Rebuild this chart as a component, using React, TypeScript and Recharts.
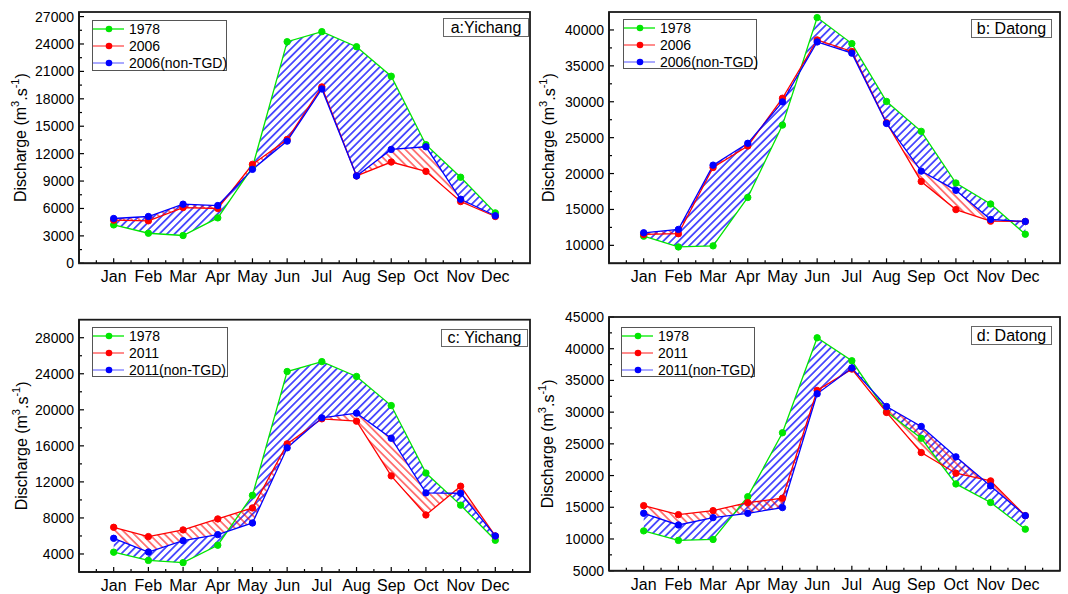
import React from "react";
import { ComposedChart, Line, Area, XAxis, YAxis } from "recharts";

// month categories (x positions 1..12)
const months = ["Jan", "Feb", "Mar", "Apr", "May", "Jun", "Jul", "Aug", "Sep", "Oct", "Nov", "Dec"];

// monthly discharge, m3/s
const yichang1978 = [4200, 3290, 3040, 4970, 10510, 24250, 25350, 23700, 20470, 12980, 9420, 5520];
const yichang2006 = [4720, 4650, 6100, 6000, 10830, 13550, 19300, 9560, 11080, 10060, 6760, 5120];
const yichang2006NonTGD = [4900, 5120, 6470, 6320, 10280, 13370, 19080, 9560, 12460, 12750, 7010, 5200];
const yichang2011 = [6960, 5930, 6670, 7890, 9110, 16220, 19000, 18740, 12670, 8330, 11520, 6000];
const yichang2011NonTGD = [5740, 4220, 5480, 6150, 7440, 15780, 19110, 19630, 16850, 10780, 10740, 6000];

const datong1978 = [11280, 9780, 9930, 16670, 26750, 41720, 38100, 30040, 25880, 18680, 15760, 11550];
const datong2006 = [11520, 11620, 20840, 23840, 30490, 38610, 37000, 27070, 18900, 14980, 13370, 13320];
const datong2006NonTGD = [11750, 12220, 21170, 24210, 29980, 38330, 36770, 26980, 20340, 17660, 13600, 13320];
const datong2011 = [15260, 13840, 14470, 15740, 16420, 33420, 36790, 29950, 23630, 20370, 19160, 13680];
const datong2011NonTGD = [14050, 12210, 13370, 14050, 14950, 32890, 36950, 30890, 27740, 22950, 18370, 13680];

// labelled y ticks for each panel
const ticksA = [0, 3000, 6000, 9000, 12000, 15000, 18000, 21000, 24000, 27000];
const ticksB = [10000, 15000, 20000, 25000, 30000, 35000, 40000];
const ticksC = [4000, 8000, 12000, 16000, 20000, 24000, 28000];
const ticksD = [5000, 10000, 15000, 20000, 25000, 30000, 35000, 40000, 45000];

const FONT = "Arial, 'Liberation Sans', sans-serif";
const GREEN = "#00e600";
const RED = "#ff0000";
const BLUE = "#0000ff";
const AXIS = "#000";

// x ticks every half month, labels only on whole months
const xTicks: number[] = [];
for (let v = 0.5; v <= 12.5; v += 0.5) xTicks.push(v);

function withMinor(majors: number[], lo: number, hi: number) {
  const step = (majors[1] - majors[0]) / 2;
  const out: number[] = [];
  for (let v = majors[0]; v >= lo; v -= step) out.push(v);
  for (let v = majors[0] + step; v <= hi; v += step) out.push(v);
  return out.sort((a, b) => a - b);
}

const XTick = (props: any) => {
  const { x, y, payload } = props;
  const v = payload.value;
  const major = Number.isInteger(v);
  return (
    <g>
      <line x1={x} x2={x} y1={y} y2={y - (major ? 5 : 3)} stroke={AXIS} strokeWidth={1.2} />
      {major && (
        <text x={x} y={y + 19} textAnchor="middle" fontSize={16} fill="#000" fontFamily={FONT}>
          {months[v - 1]}
        </text>
      )}
    </g>
  );
};

const YTick = (props: any) => {
  const { x, y, payload, majors, lo, hi } = props;
  const v = payload.value;
  const major = majors.includes(v);
  if ((v === lo || v === hi) && !major) return <g />;
  return (
    <g>
      <line x1={x} x2={x + (major ? 5 : 3)} y1={y} y2={y} stroke={AXIS} strokeWidth={1.2} />
      {major && (
        <text x={x - 5} y={y} textAnchor="end" dominantBaseline="central" fontSize={14} fill="#000" fontFamily={FONT}>
          {v}
        </text>
      )}
    </g>
  );
};

const AxisTitle = (props: any) => {
  const { px, py } = props;
  return (
    <text
      x={px}
      y={py}
      transform={`rotate(-90, ${px}, ${py})`}
      textAnchor="middle"
      dominantBaseline="central"
      fontSize={16}
      fill="#000"
      fontFamily={FONT}
    >
      Discharge (m
      <tspan dy={-6} fontSize={11}>3</tspan>
      <tspan dy={6}>.s</tspan>
      <tspan dy={-6} fontSize={11}>-1</tspan>
      <tspan dy={6}>)</tspan>
    </text>
  );
};

type Box = { left: number; top: number; width: number; height: number };

type Panel = {
  id: string;
  title: string;
  redName: string;
  blueName: string;
  base: number[];
  red: number[];
  blue: number[];
  domain: [number, number];
  majors: number[];
  left: number;
  top: number;
  margin: { top: number; right: number; bottom: number; left: number };
  yWidth: number;
  xHeight: number;
  labelX: number;
  legend: Box;
  titleBox: Box;
};

const panels: Panel[] = [
  {
    id: "a", title: "a:Yichang", redName: "2006", blueName: "2006(non-TGD)",
    base: yichang1978, red: yichang2006, blue: yichang2006NonTGD,
    domain: [0, 27500], majors: ticksA,
    left: 0, top: 0,
    margin: { top: 12, right: 4, bottom: 0, left: 0 }, yWidth: 79, xHeight: 33.7, labelX: 21,
    legend: { left: 92, top: 20, width: 135, height: 51 },
    titleBox: { left: 443, top: 18, width: 86, height: 19 },
  },
  {
    id: "b", title: "b: Datong", redName: "2006", blueName: "2006(non-TGD)",
    base: datong1978, red: datong2006, blue: datong2006NonTGD,
    domain: [7500, 42500], majors: ticksB,
    left: 534, top: 0,
    margin: { top: 12, right: 8, bottom: 0, left: 0 }, yWidth: 75, xHeight: 33.7, labelX: 15,
    legend: { left: 89, top: 19, width: 134, height: 50 },
    titleBox: { left: 437, top: 19, width: 81, height: 19 },
  },
  {
    id: "c", title: "c: Yichang", redName: "2011", blueName: "2011(non-TGD)",
    base: yichang1978, red: yichang2011, blue: yichang2011NonTGD,
    domain: [2000, 30000], majors: ticksC,
    left: 0, top: 297,
    margin: { top: 22.7, right: 4, bottom: 0, left: 0 }, yWidth: 79, xHeight: 22, labelX: 22,
    legend: { left: 92, top: 30, width: 136, height: 50 },
    titleBox: { left: 441, top: 32, width: 87, height: 18 },
  },
  {
    id: "d", title: "d: Datong", redName: "2011", blueName: "2011(non-TGD)",
    base: datong1978, red: datong2011, blue: datong2011NonTGD,
    domain: [5000, 45000], majors: ticksD,
    left: 534, top: 297,
    margin: { top: 20, right: 8, bottom: 0, left: 0 }, yWidth: 75, xHeight: 23.3, labelX: 14,
    legend: { left: 87, top: 30, width: 134, height: 50 },
    titleBox: { left: 437, top: 29, width: 81, height: 19 },
  },
];

const LegendRow = ({ color, line, label }: { color: string; line: string; label: string }) => (
  <div style={{ display: "flex", alignItems: "center", height: 16.7 }}>
    <svg width={34} height={10} style={{ flex: "none" }}>
      <line x1={0} x2={31} y1={5} y2={5} stroke={line} strokeWidth={1.5} />
      <circle cx={16} cy={5} r={3.3} fill={color} />
    </svg>
    <span style={{ marginLeft: 2, fontSize: 14, lineHeight: "16px", whiteSpace: "nowrap" }}>{label}</span>
  </div>
);

function ChartPanel({ p }: { p: Panel }) {
  const data = months.map((name, i) => ({ m: i + 1, name, g: p.base[i], r: p.red[i], b: p.blue[i] }));
  const yTicks = withMinor(p.majors, p.domain[0], p.domain[1]);
  const plotLeft = p.margin.left + p.yWidth;
  const plotTop = p.margin.top;
  const plotRight = 534 - p.margin.right;
  const plotBottom = 297 - p.margin.bottom - p.xHeight;
  const cy = (plotTop + plotBottom) / 2;
  return (
    <div style={{ position: "absolute", left: p.left, top: p.top, width: 534, height: 297 }}>
      <ComposedChart width={534} height={297} data={data} margin={p.margin}>
        <defs>
          <pattern id={`blueHatch-${p.id}`} width={5.4} height={5.4} patternUnits="userSpaceOnUse" patternTransform="rotate(45)">
            <line x1={2.7} x2={2.7} y1={0} y2={5.4} stroke={BLUE} strokeWidth={1.3} />
          </pattern>
          <pattern id={`redHatch-${p.id}`} width={5.4} height={5.4} patternUnits="userSpaceOnUse" patternTransform="rotate(-45)">
            <line x1={2.7} x2={2.7} y1={0} y2={5.4} stroke={RED} strokeWidth={1} />
          </pattern>
        </defs>
        <XAxis
          dataKey="m"
          type="number"
          domain={[0, 13]}
          ticks={xTicks}
          interval={0}
          height={p.xHeight}
          tickSize={0}
          tickMargin={0}
          tickLine={false}
          tick={<XTick />}
          axisLine={{ stroke: AXIS, strokeWidth: 1.5 }}
        />
        <YAxis
          type="number"
          domain={p.domain}
          ticks={yTicks}
          interval={0}
          width={p.yWidth}
          tickSize={0}
          tickMargin={0}
          tickLine={false}
          tick={(tp: any) => <YTick {...tp} majors={p.majors} lo={p.domain[0]} hi={p.domain[1]} />}
          axisLine={{ stroke: AXIS, strokeWidth: 1.5 }}
          label={<AxisTitle px={p.labelX} py={cy} />}
        />
        <Area
          type="linear"
          dataKey={(d: any) => [d.g, d.b]}
          stroke="none"
          fill={`url(#blueHatch-${p.id})`}
          fillOpacity={1}
          isAnimationActive={false}
          activeDot={false}
        />
        <Area
          type="linear"
          dataKey={(d: any) => [d.r, d.b]}
          stroke="none"
          fill={`url(#redHatch-${p.id})`}
          fillOpacity={1}
          isAnimationActive={false}
          activeDot={false}
        />
        <Line type="linear" dataKey="g" stroke={GREEN} strokeWidth={1.3} dot={{ r: 3.2, fill: GREEN, stroke: GREEN, strokeWidth: 1 }} isAnimationActive={false} />
        <Line type="linear" dataKey="r" stroke={RED} strokeWidth={1.3} dot={{ r: 3.2, fill: RED, stroke: RED, strokeWidth: 1 }} isAnimationActive={false} />
        <Line type="linear" dataKey="b" stroke={BLUE} strokeWidth={1.3} dot={{ r: 3.2, fill: BLUE, stroke: BLUE, strokeWidth: 1 }} isAnimationActive={false} />
      </ComposedChart>
      {/* plot frame */}
      <svg
        width={534}
        height={297}
        style={{ position: "absolute", left: 0, top: 0, pointerEvents: "none" }}
      >
        <rect
          x={plotLeft}
          y={plotTop}
          width={plotRight - plotLeft}
          height={plotBottom - plotTop}
          fill="none"
          stroke="#1a1a1a"
          strokeWidth={1.8}
        />
      </svg>
      <div
        style={{
          position: "absolute",
          left: p.legend.left,
          top: p.legend.top,
          width: p.legend.width,
          height: p.legend.height,
          boxSizing: "border-box",
          border: "1px solid #555",
          background: "#fff",
        }}
      >
        <LegendRow color={GREEN} line="#22ee22" label="1978" />
        <LegendRow color={RED} line="#ff6666" label={p.redName} />
        <LegendRow color={BLUE} line="#8c8cff" label={p.blueName} />
      </div>
      <div
        style={{
          position: "absolute",
          left: p.titleBox.left,
          top: p.titleBox.top,
          width: p.titleBox.width,
          height: p.titleBox.height,
          boxSizing: "border-box",
          border: "1px solid #666",
          background: "#fff",
          fontSize: 16,
          lineHeight: `${p.titleBox.height - 2}px`,
          textAlign: "center",
          whiteSpace: "nowrap",
        }}
      >
        {p.title}
      </div>
    </div>
  );
}

export default function App() {
  return (
    <div
      style={{
        position: "absolute",
        left: 0,
        top: 0,
        width: 1068,
        height: 594,
        background: "#fff",
        fontFamily: FONT,
        color: "#000",
      }}
    >
      {panels.map((p) => (
        <ChartPanel key={p.id} p={p} />
      ))}
    </div>
  );
}
